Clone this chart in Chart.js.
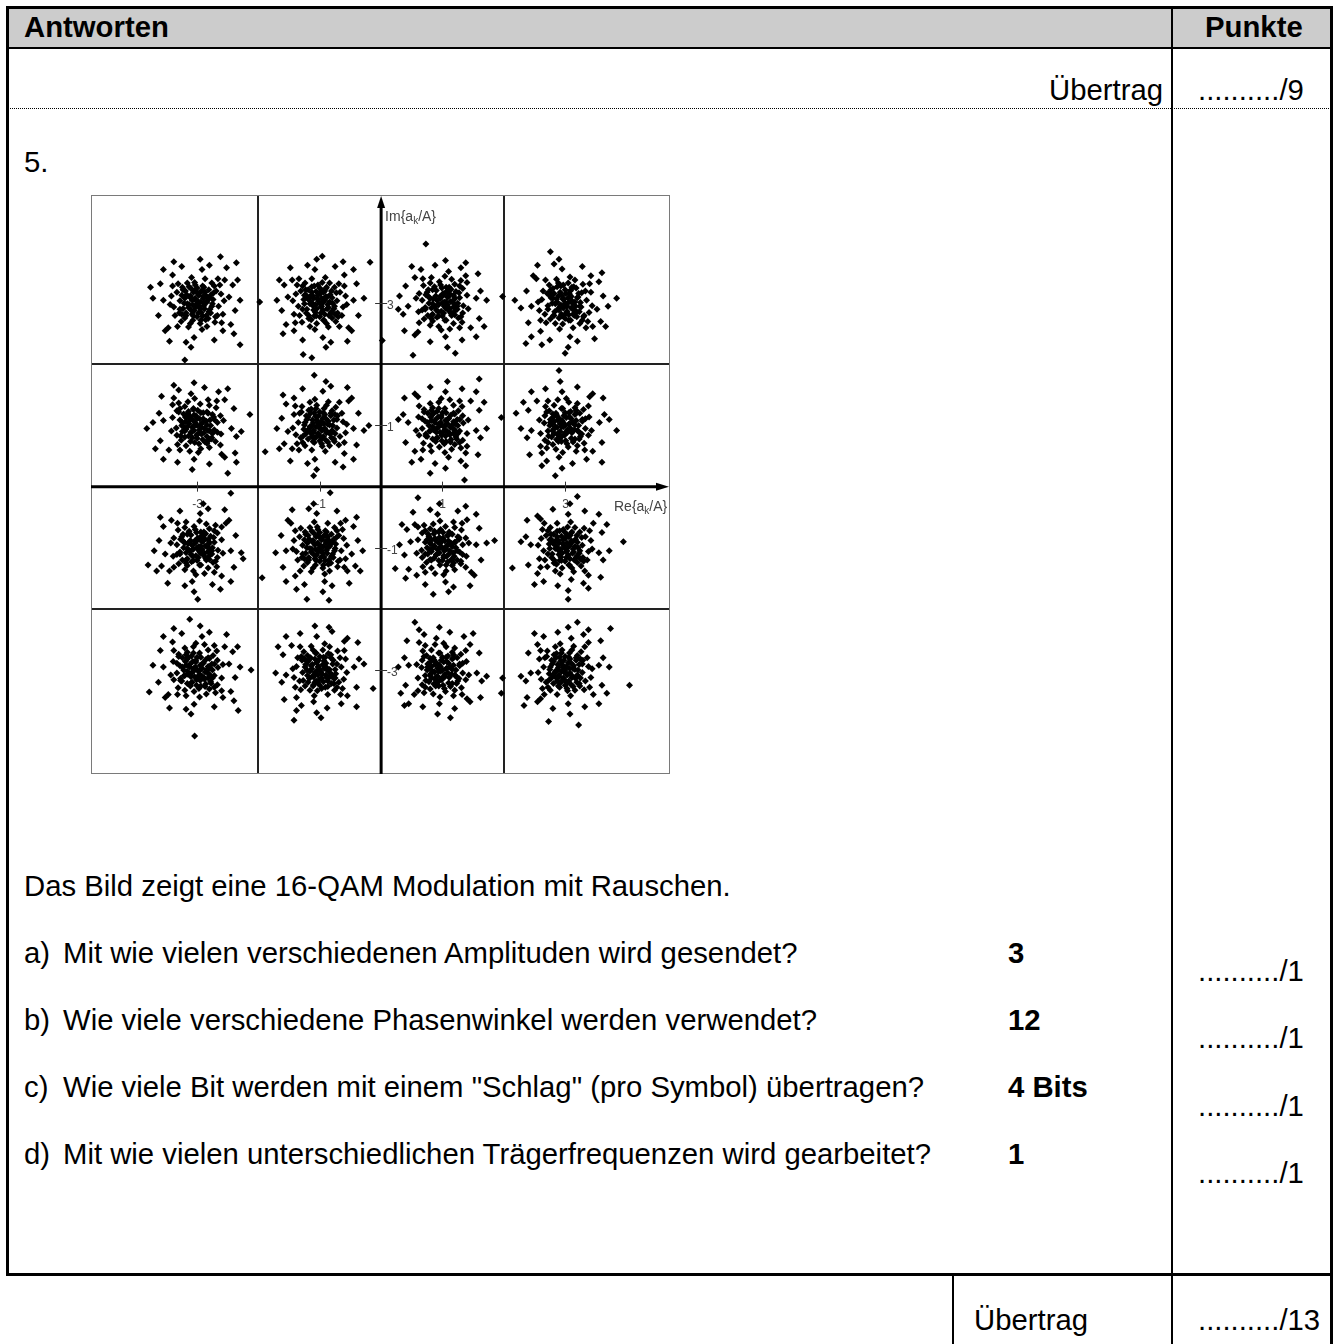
<!DOCTYPE html>
<html lang="de">
<head>
<meta charset="utf-8">
<title>16-QAM</title>
<script src="https://cdn.jsdelivr.net/npm/chart.js@4.4.1/dist/chart.umd.min.js"></script>
<style>
  html, body { margin: 0; padding: 0; background: #fff; }
  body { width: 1337px; height: 1344px; position: relative; overflow: hidden;
         font-family: "Liberation Sans", Arial, sans-serif; color: #000; }
  .t { position: absolute; font-size: 29.3px; line-height: 32px; white-space: nowrap; }
  .b { font-weight: bold; }
  .ln { position: absolute; background: #000; }
  #head { position: absolute; left: 8px; top: 8px; width: 1323px; height: 40px; background: #cccccc; }
  #dots { position: absolute; left: 8px; top: 108px; width: 1323px; border-top: 1px dotted #000; }
  #plot { position: absolute; left: 91px; top: 195px; width: 579px; height: 579px; }
</style>
</head>
<body>
<div id="head"></div>
<!-- table frame -->
<div class="ln" style="left:6px;top:6px;width:1327px;height:3px"></div>
<div class="ln" style="left:6px;top:6px;width:3px;height:1270px"></div>
<div class="ln" style="left:1330px;top:6px;width:3px;height:1338px"></div>
<div class="ln" style="left:6px;top:47px;width:1327px;height:2px"></div>
<div class="ln" style="left:1171px;top:6px;width:2px;height:1338px"></div>
<div class="ln" style="left:6px;top:1273px;width:1327px;height:3px"></div>
<div class="ln" style="left:952px;top:1275px;width:2px;height:69px"></div>
<div id="dots"></div>

<div class="t b" style="left:24px;top:11px">Antworten</div>
<div class="t b" style="left:1205px;top:11px">Punkte</div>
<div class="t" style="right:174px;top:74px">Übertrag</div>
<div class="t" style="left:1198px;top:74px">........../9</div>
<div class="t" style="left:24px;top:146px">5.</div>

<div id="plot"><canvas id="qam" width="579" height="579"></canvas></div>

<div class="t" style="left:24px;top:870px">Das Bild zeigt eine 16-QAM Modulation mit Rauschen.</div>

<div class="t" style="left:24px;top:937px">a)</div>
<div class="t" style="left:63px;top:937px">Mit wie vielen verschiedenen Amplituden wird gesendet?</div>
<div class="t b" style="left:1008px;top:937px">3</div>
<div class="t" style="left:1198px;top:955px">........../1</div>

<div class="t" style="left:24px;top:1004px">b)</div>
<div class="t" style="left:63px;top:1004px">Wie viele verschiedene Phasenwinkel werden verwendet?</div>
<div class="t b" style="left:1008px;top:1004px">12</div>
<div class="t" style="left:1198px;top:1022px">........../1</div>

<div class="t" style="left:24px;top:1071px">c)</div>
<div class="t" style="left:63px;top:1071px">Wie viele Bit werden mit einem "Schlag" (pro Symbol) übertragen?</div>
<div class="t b" style="left:1008px;top:1071px">4 Bits</div>
<div class="t" style="left:1198px;top:1090px">........../1</div>

<div class="t" style="left:24px;top:1138px">d)</div>
<div class="t" style="left:63px;top:1138px">Mit wie vielen unterschiedlichen Trägerfrequenzen wird gearbeitet?</div>
<div class="t b" style="left:1008px;top:1138px">1</div>
<div class="t" style="left:1198px;top:1157px">........../1</div>

<div class="t" style="left:974px;top:1304px">Übertrag</div>
<div class="t" style="left:1198px;top:1304px">........../13</div>

<script>
// axis ranges of the constellation plot (Re / Im of a_k/A)
const xMin = -4.73, xMax = 4.71;
const yMin = -4.70, yMax = 4.77;
const gridValues = [-2, 2];
const xTickLabels = [-3, -1, 1, 3];
const yTickLabels = [3, 1, -1, -3];

// received symbols, one cloud per constellation point [Re, Im]
const cloud_m3_p3 = [[-2.98,3.03],[-3.08,3.05],[-2.89,2.96],[-3.05,2.88],[-2.85,3.12],[-3.17,3.14],[-2.94,3.19],[-3.13,2.98],[-2.79,2.90],[-3.00,2.78],[-3.23,2.91],[-2.91,3.28],[-2.74,3.06],[-3.10,3.24],[-3.28,3.04],[-2.82,2.75],[-3.20,2.76],[-2.69,3.20],[-3.04,3.34],[-2.95,2.67],[-3.33,3.18],[-2.65,2.95],[-3.26,2.70],[-2.76,3.33],[-3.38,2.94],[-2.87,3.40],[-2.61,3.15],[-3.14,2.61],[-2.71,2.69],[-3.31,3.32],[-2.58,2.82],[-3.42,3.12],[-2.97,3.13],[-3.02,2.94],[-2.88,3.00],[-3.12,3.10],[-2.93,2.85],[-3.18,2.84],[-2.81,3.22],[-3.07,2.72],[-2.67,2.80],[-3.24,3.26],[-2.84,2.62],[-3.36,2.80],[-2.63,3.30],[-3.09,3.42],[-2.56,3.04],[-3.44,2.98],[-2.78,2.84],[-3.16,3.33],[-2.90,3.08],[-3.06,3.18],[-2.75,2.99],[-3.21,3.00],[-3.00,3.25],[-2.86,2.73],[-3.29,2.84],[-2.72,3.28],[-3.11,2.67],[-2.60,2.68],[-3.40,3.28],[-2.92,2.57],[-3.32,2.62],[-2.66,3.40],[-3.03,3.08],
  [-2.48,3.10],[-3.55,3.05],[-2.92,3.55],[-3.05,2.44],[-2.55,3.38],[-3.40,3.46],[-2.58,2.55],[-3.47,2.60],[-2.38,2.88],[-3.63,2.80],[-2.80,3.62],[-3.25,3.60],[-2.72,2.40],[-3.18,2.36],[-2.42,3.30],[-3.60,3.32],[-2.45,2.65],[-3.52,2.55],[-2.30,3.05],[-3.72,3.08],[-2.95,3.72],[-3.10,2.28],[-2.52,3.58],[-3.55,3.55],[-2.40,2.50],[-3.45,2.38],[-2.34,3.38],[-3.38,3.68],
  [-2.95,2.91],[-3.14,2.93],[-2.83,3.05],[-3.03,3.21],[-2.91,2.79],[-3.19,3.20],[-2.77,3.14],[-3.25,2.82],[-2.87,3.18],[-3.08,2.82],
  [-3.00,3.00],[-2.94,3.02],[-3.04,3.07],[-2.97,2.95],[-3.07,2.97],[-2.90,3.11],[-3.11,3.12],[-2.88,2.91],[-3.10,2.89],[-2.84,3.02],[-3.16,2.99],[-2.99,3.16],[-2.98,2.84],[-2.80,3.09],[-3.20,3.08],[-2.92,3.20],[-3.06,2.79],[-2.81,2.86],[-3.18,2.80],[-2.76,2.95],[-3.25,3.13],[-2.89,3.26],[-3.13,3.27],[-2.73,3.17],[-3.28,2.90],[-2.94,2.72],[-2.70,2.78],[-3.23,3.22],[-2.85,2.80],[-3.03,3.30],
  [-3.20,2.07],[-3.76,3.26],[-2.62,3.76],[-2.36,3.66],[-2.30,2.32]];
const cloud_m1_p3 = [[-1.02,3.03],[-0.92,3.05],[-1.11,2.96],[-0.95,2.88],[-1.15,3.12],[-0.83,3.14],[-1.06,3.19],[-0.87,2.98],[-1.21,2.90],[-1.00,2.78],[-0.77,2.91],[-1.09,3.28],[-1.26,3.06],[-0.90,3.24],[-0.72,3.04],[-1.18,2.75],[-0.80,2.76],[-1.31,3.20],[-0.96,3.34],[-1.05,2.67],[-0.67,3.18],[-1.35,2.95],[-0.74,2.70],[-1.24,3.33],[-0.62,2.94],[-1.13,3.40],[-1.39,3.15],[-0.86,2.61],[-1.29,2.69],[-0.69,3.32],[-1.42,2.82],[-0.58,3.12],[-1.03,3.13],[-0.98,2.94],[-1.12,3.00],[-0.88,3.10],[-1.07,2.85],[-0.82,2.84],[-1.19,3.22],[-0.93,2.72],[-1.33,2.80],[-0.76,3.26],[-1.16,2.62],[-0.64,2.80],[-1.37,3.30],[-0.91,3.42],[-1.44,3.04],[-0.56,2.98],[-1.22,2.84],[-0.84,3.33],[-1.10,3.08],[-0.94,3.18],[-1.25,2.99],[-0.79,3.00],[-1.00,3.25],[-1.14,2.73],[-0.71,2.84],[-1.28,3.28],[-0.89,2.67],[-1.40,2.68],[-0.60,3.28],[-1.08,2.57],[-0.68,2.62],[-1.34,3.40],[-0.97,3.08],
  [-1.52,3.10],[-0.45,3.05],[-1.08,3.55],[-0.95,2.44],[-1.45,3.38],[-0.60,3.46],[-1.42,2.55],[-0.53,2.60],[-1.62,2.88],[-0.37,2.80],[-1.20,3.62],[-0.75,3.60],[-1.28,2.40],[-0.82,2.36],[-1.58,3.30],[-0.40,3.32],[-1.55,2.65],[-0.48,2.55],[-1.70,3.05],[-0.28,3.08],[-1.05,3.72],[-0.90,2.28],[-1.48,3.58],[-0.45,3.55],[-1.60,2.50],[-0.55,2.38],[-1.66,3.38],[-0.62,3.68],
  [-1.05,2.91],[-0.86,2.93],[-1.17,3.05],[-0.97,3.21],[-1.09,2.79],[-0.81,3.20],[-1.23,3.14],[-0.75,2.82],[-1.13,3.18],[-0.92,2.82],
  [-1.00,3.00],[-0.94,3.02],[-1.04,3.07],[-0.97,2.95],[-1.07,2.97],[-0.90,3.11],[-1.11,3.12],[-0.88,2.91],[-1.10,2.89],[-0.84,3.02],[-1.16,2.99],[-0.99,3.16],[-0.98,2.84],[-0.80,3.09],[-1.20,3.08],[-0.92,3.20],[-1.06,2.79],[-0.81,2.86],[-1.18,2.80],[-0.76,2.95],[-1.25,3.13],[-0.89,3.26],[-1.13,3.27],[-0.73,3.17],[-1.28,2.90],[-0.94,2.72],[-0.70,2.78],[-1.23,3.22],[-0.85,2.80],[-1.03,3.30],
  [-1.98,3.02],[-0.18,3.67],[-1.27,2.16],[-1.13,2.11],[-0.96,3.77]];
const cloud_p1_p3 = [[1.03,3.02],[1.05,2.92],[0.96,3.11],[0.88,2.95],[1.12,3.15],[1.14,2.83],[1.19,3.06],[0.98,2.87],[0.90,3.21],[0.78,3.00],[0.91,2.77],[1.28,3.09],[1.06,3.26],[1.24,2.90],[1.04,2.72],[0.75,3.18],[0.76,2.80],[1.20,3.31],[1.34,2.96],[0.67,3.05],[1.18,2.67],[0.95,3.35],[0.70,2.74],[1.33,3.24],[0.94,2.62],[1.40,3.13],[1.15,3.39],[0.61,2.86],[0.69,3.29],[1.32,2.69],[0.82,3.42],[1.12,2.58],[1.13,3.03],[0.94,2.98],[1.00,3.12],[1.10,2.88],[0.85,3.07],[0.84,2.82],[1.22,3.19],[0.72,2.93],[0.80,3.33],[1.26,2.76],[0.62,3.16],[0.80,2.64],[1.30,3.37],[1.42,2.91],[1.04,3.44],[0.98,2.56],[0.84,3.22],[1.33,2.84],[1.08,3.10],[1.18,2.94],[0.99,3.25],[1.00,2.79],[1.25,3.00],[0.73,3.14],[0.84,2.71],[1.28,3.28],[0.67,2.89],[0.68,3.40],[1.28,2.60],[0.57,3.08],[0.62,2.68],[1.40,3.34],[1.08,2.97],
  [1.10,3.52],[1.05,2.45],[1.55,3.08],[0.44,2.95],[1.38,3.45],[1.46,2.60],[0.55,3.42],[0.60,2.53],[0.88,3.62],[0.80,2.37],[1.62,3.20],[1.60,2.75],[0.40,3.28],[0.36,2.82],[1.30,3.58],[1.32,2.40],[0.65,3.55],[0.55,2.48],[1.05,3.70],[1.08,2.28],[1.72,3.05],[0.28,2.90],[1.58,3.48],[1.55,2.45],[0.50,3.60],[0.38,2.55],[1.38,3.66],[1.68,2.62],
  [0.91,3.05],[0.93,2.86],[1.05,3.17],[1.21,2.97],[0.79,3.09],[1.20,2.81],[1.14,3.23],[0.82,2.75],[1.18,3.13],[0.82,2.92],
  [1.00,3.00],[1.06,3.02],[0.96,3.07],[1.03,2.95],[0.93,2.97],[1.10,3.11],[0.89,3.12],[1.12,2.91],[0.90,2.89],[1.16,3.02],[0.84,2.99],[1.01,3.16],[1.02,2.84],[1.20,3.09],[0.80,3.08],[1.08,3.20],[0.94,2.79],[1.19,2.86],[0.82,2.80],[1.24,2.95],[0.75,3.13],[1.11,3.26],[0.87,3.27],[1.27,3.17],[0.72,2.90],[1.06,2.72],[1.30,2.78],[0.77,3.22],[1.15,2.80],[0.97,3.30],
  [0.73,3.97],[0.30,3.12],[0.52,2.15],[1.21,2.18],[0.02,2.39],[1.98,3.11]];
const cloud_p3_p3 = [[3.02,2.97],[2.92,2.95],[3.11,3.04],[2.95,3.12],[3.15,2.88],[2.83,2.86],[3.06,2.81],[2.87,3.02],[3.21,3.10],[3.00,3.22],[2.77,3.09],[3.09,2.72],[3.26,2.94],[2.90,2.76],[2.72,2.96],[3.18,3.25],[2.80,3.24],[3.31,2.80],[2.96,2.66],[3.05,3.33],[2.67,2.82],[3.35,3.05],[2.74,3.30],[3.24,2.67],[2.62,3.06],[3.13,2.60],[3.39,2.85],[2.86,3.39],[3.29,3.31],[2.69,2.68],[3.42,3.18],[2.58,2.88],[3.03,2.87],[2.98,3.06],[3.12,3.00],[2.88,2.90],[3.07,3.15],[2.82,3.16],[3.19,2.78],[2.93,3.28],[3.33,3.20],[2.76,2.74],[3.16,3.38],[2.64,3.20],[3.37,2.70],[2.91,2.58],[3.44,2.96],[2.56,3.02],[3.22,3.16],[2.84,2.67],[3.10,2.92],[2.94,2.82],[3.25,3.01],[2.79,3.00],[3.00,2.75],[3.14,3.27],[2.71,3.16],[3.28,2.72],[2.89,3.33],[3.40,3.32],[2.60,2.72],[3.08,3.43],[2.68,3.38],[3.34,2.60],[2.97,2.92],
  [3.52,2.90],[2.45,2.95],[3.08,2.45],[2.95,3.56],[3.45,2.62],[2.60,2.54],[3.42,3.45],[2.53,3.40],[3.62,3.12],[2.37,3.20],[3.20,2.38],[2.75,2.40],[3.28,3.60],[2.82,3.64],[3.58,2.70],[2.40,2.68],[3.55,3.35],[2.48,3.45],[3.70,2.95],[2.28,2.92],[3.05,2.28],[2.90,3.72],[3.48,2.42],[2.45,2.45],[3.60,3.50],[2.55,3.62],[3.66,2.62],[2.62,2.32],
  [3.05,3.09],[2.86,3.07],[3.17,2.95],[2.97,2.79],[3.09,3.21],[2.81,2.80],[3.23,2.86],[2.75,3.18],[3.13,2.82],[2.92,3.18],
  [3.00,3.00],[3.06,3.02],[2.96,3.07],[3.03,2.95],[2.93,2.97],[3.10,3.11],[2.89,3.12],[3.12,2.91],[2.90,2.89],[3.16,3.02],[2.84,2.99],[3.01,3.16],[3.02,2.84],[3.20,3.09],[2.80,3.08],[3.08,3.20],[2.94,2.79],[3.19,2.86],[2.82,2.80],[3.24,2.95],[2.75,3.13],[3.11,3.26],[2.87,3.27],[3.27,3.17],[2.72,2.90],[3.06,2.72],[3.30,2.78],[2.77,3.22],[3.15,2.80],[2.97,3.30],
  [2.76,3.84],[3.84,3.08],[2.36,2.34],[3.00,2.18],[2.18,3.05]];
const cloud_m3_p1 = [[-3.03,1.02],[-3.05,0.92],[-2.96,1.11],[-2.88,0.95],[-3.12,1.15],[-3.14,0.83],[-3.19,1.06],[-2.98,0.87],[-2.90,1.21],[-2.78,1.00],[-2.91,0.77],[-3.28,1.09],[-3.06,1.26],[-3.24,0.90],[-3.04,0.72],[-2.75,1.18],[-2.76,0.80],[-3.20,1.31],[-3.34,0.96],[-2.67,1.05],[-3.18,0.67],[-2.95,1.35],[-2.70,0.74],[-3.33,1.24],[-2.94,0.62],[-3.40,1.13],[-3.15,1.39],[-2.61,0.86],[-2.69,1.29],[-3.32,0.69],[-2.82,1.42],[-3.12,0.58],[-3.13,1.03],[-2.94,0.98],[-3.00,1.12],[-3.10,0.88],[-2.85,1.07],[-2.84,0.82],[-3.22,1.19],[-2.72,0.93],[-2.80,1.33],[-3.26,0.76],[-2.62,1.16],[-2.80,0.64],[-3.30,1.37],[-3.42,0.91],[-3.04,1.44],[-2.98,0.56],[-2.84,1.22],[-3.33,0.84],[-3.08,1.10],[-3.18,0.94],[-2.99,1.25],[-3.00,0.79],[-3.25,1.00],[-2.73,1.14],[-2.84,0.71],[-3.28,1.28],[-2.67,0.89],[-2.68,1.40],[-3.28,0.60],[-2.57,1.08],[-2.62,0.68],[-3.40,1.34],[-3.08,0.97],
  [-3.10,1.52],[-3.05,0.45],[-3.55,1.08],[-2.44,0.95],[-3.38,1.45],[-3.46,0.60],[-2.55,1.42],[-2.60,0.53],[-2.88,1.62],[-2.80,0.37],[-3.62,1.20],[-3.60,0.75],[-2.40,1.28],[-2.36,0.82],[-3.30,1.58],[-3.32,0.40],[-2.65,1.55],[-2.55,0.48],[-3.05,1.70],[-3.08,0.28],[-3.72,1.05],[-2.28,0.90],[-3.58,1.48],[-3.55,0.45],[-2.50,1.60],[-2.38,0.55],[-3.38,1.66],[-3.68,0.62],
  [-2.91,1.05],[-2.93,0.86],[-3.05,1.17],[-3.21,0.97],[-2.79,1.09],[-3.20,0.81],[-3.14,1.23],[-2.82,0.75],[-3.18,1.13],[-2.82,0.92],
  [-3.00,1.00],[-3.06,0.98],[-2.96,0.93],[-3.03,1.05],[-2.93,1.03],[-3.10,0.89],[-2.89,0.88],[-3.12,1.09],[-2.90,1.11],[-3.16,0.98],[-2.84,1.01],[-3.01,0.84],[-3.02,1.16],[-3.20,0.91],[-2.80,0.92],[-3.08,0.80],[-2.94,1.21],[-3.19,1.14],[-2.82,1.20],[-3.24,1.05],[-2.75,0.87],[-3.11,0.74],[-2.87,0.73],[-3.27,0.83],[-2.72,1.10],[-3.06,1.28],[-3.30,1.22],[-2.77,0.78],[-3.15,1.20],[-2.97,0.70],
  [-3.82,0.95],[-2.14,1.18],[-2.50,0.22],[-2.36,0.40]];
const cloud_m1_p1 = [[-1.02,0.97],[-0.92,0.95],[-1.11,1.04],[-0.95,1.12],[-1.15,0.88],[-0.83,0.86],[-1.06,0.81],[-0.87,1.02],[-1.21,1.10],[-1.00,1.22],[-0.77,1.09],[-1.09,0.72],[-1.26,0.94],[-0.90,0.76],[-0.72,0.96],[-1.18,1.25],[-0.80,1.24],[-1.31,0.80],[-0.96,0.66],[-1.05,1.33],[-0.67,0.82],[-1.35,1.05],[-0.74,1.30],[-1.24,0.67],[-0.62,1.06],[-1.13,0.60],[-1.39,0.85],[-0.86,1.39],[-1.29,1.31],[-0.69,0.68],[-1.42,1.18],[-0.58,0.88],[-1.03,0.87],[-0.98,1.06],[-1.12,1.00],[-0.88,0.90],[-1.07,1.15],[-0.82,1.16],[-1.19,0.78],[-0.93,1.28],[-1.33,1.20],[-0.76,0.74],[-1.16,1.38],[-0.64,1.20],[-1.37,0.70],[-0.91,0.58],[-1.44,0.96],[-0.56,1.02],[-1.22,1.16],[-0.84,0.67],[-1.10,0.92],[-0.94,0.82],[-1.25,1.01],[-0.79,1.00],[-1.00,0.75],[-1.14,1.27],[-0.71,1.16],[-1.28,0.72],[-0.89,1.33],[-1.40,1.32],[-0.60,0.72],[-1.08,1.43],[-0.68,1.38],[-1.34,0.60],[-0.97,0.92],
  [-1.52,0.90],[-0.45,0.95],[-1.08,0.45],[-0.95,1.56],[-1.45,0.62],[-0.60,0.54],[-1.42,1.45],[-0.53,1.40],[-1.62,1.12],[-0.37,1.20],[-1.20,0.38],[-0.75,0.40],[-1.28,1.60],[-0.82,1.64],[-1.58,0.70],[-0.40,0.68],[-1.55,1.35],[-0.48,1.45],[-1.70,0.95],[-0.28,0.92],[-1.05,0.28],[-0.90,1.72],[-1.48,0.42],[-0.45,0.45],[-1.60,1.50],[-0.55,1.62],[-1.66,0.62],[-0.62,0.32],
  [-1.05,1.09],[-0.86,1.07],[-1.17,0.95],[-0.97,0.79],[-1.09,1.21],[-0.81,0.80],[-1.23,0.86],[-0.75,1.18],[-1.13,0.82],[-0.92,1.18],
  [-1.00,1.00],[-1.06,0.98],[-0.96,0.93],[-1.03,1.05],[-0.93,1.03],[-1.10,0.89],[-0.89,0.88],[-1.12,1.09],[-0.90,1.11],[-1.16,0.98],[-0.84,1.01],[-1.01,0.84],[-1.02,1.16],[-1.20,0.91],[-0.80,0.92],[-1.08,0.80],[-0.94,1.21],[-1.19,1.14],[-0.82,1.20],[-1.24,1.05],[-0.75,0.87],[-1.11,0.74],[-0.87,0.73],[-1.27,0.83],[-0.72,1.10],[-1.06,1.28],[-1.30,1.22],[-0.77,0.78],[-1.15,1.20],[-0.97,0.70],
  [-1.89,0.57],[-1.09,1.82],[-1.10,0.18],[-0.20,1.00]];
const cloud_p1_p1 = [[1.03,0.98],[1.05,1.08],[0.96,0.89],[0.88,1.05],[1.12,0.85],[1.14,1.17],[1.19,0.94],[0.98,1.13],[0.90,0.79],[0.78,1.00],[0.91,1.23],[1.28,0.91],[1.06,0.74],[1.24,1.10],[1.04,1.28],[0.75,0.82],[0.76,1.20],[1.20,0.69],[1.34,1.04],[0.67,0.95],[1.18,1.33],[0.95,0.65],[0.70,1.26],[1.33,0.76],[0.94,1.38],[1.40,0.87],[1.15,0.61],[0.61,1.14],[0.69,0.71],[1.32,1.31],[0.82,0.58],[1.12,1.42],[1.13,0.97],[0.94,1.02],[1.00,0.88],[1.10,1.12],[0.85,0.93],[0.84,1.18],[1.22,0.81],[0.72,1.07],[0.80,0.67],[1.26,1.24],[0.62,0.84],[0.80,1.36],[1.30,0.63],[1.42,1.09],[1.04,0.56],[0.98,1.44],[0.84,0.78],[1.33,1.16],[1.08,0.90],[1.18,1.06],[0.99,0.75],[1.00,1.21],[1.25,1.00],[0.73,0.86],[0.84,1.29],[1.28,0.72],[0.67,1.11],[0.68,0.60],[1.28,1.40],[0.57,0.92],[0.62,1.32],[1.40,0.66],[1.08,1.03],
  [1.10,0.48],[1.05,1.55],[1.55,0.92],[0.44,1.05],[1.38,0.55],[1.46,1.40],[0.55,0.58],[0.60,1.47],[0.88,0.38],[0.80,1.63],[1.62,0.80],[1.60,1.25],[0.40,0.72],[0.36,1.18],[1.30,0.42],[1.32,1.60],[0.65,0.45],[0.55,1.52],[1.05,0.30],[1.08,1.72],[1.72,0.95],[0.28,1.10],[1.58,0.52],[1.55,1.55],[0.50,0.40],[0.38,1.45],[1.38,0.34],[1.68,1.38],
  [0.91,0.95],[0.93,1.14],[1.05,0.83],[1.21,1.03],[0.79,0.91],[1.20,1.19],[1.14,0.77],[0.82,1.25],[1.18,0.87],[0.82,1.08],
  [1.00,1.00],[0.94,0.98],[1.04,0.93],[0.97,1.05],[1.07,1.03],[0.90,0.89],[1.11,0.88],[0.88,1.09],[1.10,1.11],[0.84,0.98],[1.16,1.01],[0.99,0.84],[0.98,1.16],[0.80,0.91],[1.20,0.92],[0.92,0.80],[1.06,1.21],[0.81,1.14],[1.18,1.20],[0.76,1.05],[1.25,0.87],[0.89,0.74],[1.13,0.73],[0.73,0.83],[1.28,1.10],[0.94,1.28],[0.70,1.22],[1.23,0.78],[0.85,1.20],[1.03,0.70],
  [1.96,1.13],[1.60,1.76],[1.36,0.11],[0.80,0.22]];
const cloud_p3_p1 = [[2.97,0.98],[2.95,1.08],[3.04,0.89],[3.12,1.05],[2.88,0.85],[2.86,1.17],[2.81,0.94],[3.02,1.13],[3.10,0.79],[3.22,1.00],[3.09,1.23],[2.72,0.91],[2.94,0.74],[2.76,1.10],[2.96,1.28],[3.25,0.82],[3.24,1.20],[2.80,0.69],[2.66,1.04],[3.33,0.95],[2.82,1.33],[3.05,0.65],[3.30,1.26],[2.67,0.76],[3.06,1.38],[2.60,0.87],[2.85,0.61],[3.39,1.14],[3.31,0.71],[2.68,1.31],[3.18,0.58],[2.88,1.42],[2.87,0.97],[3.06,1.02],[3.00,0.88],[2.90,1.12],[3.15,0.93],[3.16,1.18],[2.78,0.81],[3.28,1.07],[3.20,0.67],[2.74,1.24],[3.38,0.84],[3.20,1.36],[2.70,0.63],[2.58,1.09],[2.96,0.56],[3.02,1.44],[3.16,0.78],[2.67,1.16],[2.92,0.90],[2.82,1.06],[3.01,0.75],[3.00,1.21],[2.75,1.00],[3.27,0.86],[3.16,1.29],[2.72,0.72],[3.33,1.11],[3.32,0.60],[2.72,1.40],[3.43,0.92],[3.38,1.32],[2.60,0.66],[2.92,1.03],
  [2.90,0.48],[2.95,1.55],[2.45,0.92],[3.56,1.05],[2.62,0.55],[2.54,1.40],[3.45,0.58],[3.40,1.47],[3.12,0.38],[3.20,1.63],[2.38,0.80],[2.40,1.25],[3.60,0.72],[3.64,1.18],[2.70,0.42],[2.68,1.60],[3.35,0.45],[3.45,1.52],[2.95,0.30],[2.92,1.72],[2.28,0.95],[3.72,1.10],[2.42,0.52],[2.45,1.55],[3.60,0.40],[3.62,1.45],[2.62,0.34],[2.32,1.38],
  [3.09,0.95],[3.07,1.14],[2.95,0.83],[2.79,1.03],[3.21,0.91],[2.80,1.19],[2.86,0.77],[3.18,1.25],[2.82,0.87],[3.18,1.08],
  [3.00,1.00],[2.94,0.98],[3.04,0.93],[2.97,1.05],[3.07,1.03],[2.90,0.89],[3.11,0.88],[2.88,1.09],[3.10,1.11],[2.84,0.98],[3.16,1.01],[2.99,0.84],[2.98,1.16],[2.80,0.91],[3.20,0.92],[2.92,0.80],[3.06,1.21],[2.81,1.14],[3.18,1.20],[2.76,1.05],[3.25,0.87],[2.89,0.74],[3.13,0.73],[2.73,0.83],[3.28,1.10],[2.94,1.28],[2.70,1.22],[3.23,0.78],[2.85,1.20],[3.03,0.70],
  [2.90,1.90],[3.84,0.92],[2.20,1.20],[2.84,0.18]];
const cloud_m3_m1 = [[-2.97,-0.98],[-2.95,-1.08],[-3.04,-0.89],[-3.12,-1.05],[-2.88,-0.85],[-2.86,-1.17],[-2.81,-0.94],[-3.02,-1.13],[-3.10,-0.79],[-3.22,-1.00],[-3.09,-1.23],[-2.72,-0.91],[-2.94,-0.74],[-2.76,-1.10],[-2.96,-1.28],[-3.25,-0.82],[-3.24,-1.20],[-2.80,-0.69],[-2.66,-1.04],[-3.33,-0.95],[-2.82,-1.33],[-3.05,-0.65],[-3.30,-1.26],[-2.67,-0.76],[-3.06,-1.38],[-2.60,-0.87],[-2.85,-0.61],[-3.39,-1.14],[-3.31,-0.71],[-2.68,-1.31],[-3.18,-0.58],[-2.88,-1.42],[-2.87,-0.97],[-3.06,-1.02],[-3.00,-0.88],[-2.90,-1.12],[-3.15,-0.93],[-3.16,-1.18],[-2.78,-0.81],[-3.28,-1.07],[-3.20,-0.67],[-2.74,-1.24],[-3.38,-0.84],[-3.20,-1.36],[-2.70,-0.63],[-2.58,-1.09],[-2.96,-0.56],[-3.02,-1.44],[-3.16,-0.78],[-2.67,-1.16],[-2.92,-0.90],[-2.82,-1.06],[-3.01,-0.75],[-3.00,-1.21],[-2.75,-1.00],[-3.27,-0.86],[-3.16,-1.29],[-2.72,-0.72],[-3.33,-1.11],[-3.32,-0.60],[-2.72,-1.40],[-3.43,-0.92],[-3.38,-1.32],[-2.60,-0.66],[-2.92,-1.03],
  [-3.52,-1.10],[-2.45,-1.05],[-3.08,-1.55],[-2.95,-0.44],[-3.45,-1.38],[-2.60,-1.46],[-3.42,-0.55],[-2.53,-0.60],[-3.62,-0.88],[-2.37,-0.80],[-3.20,-1.62],[-2.75,-1.60],[-3.28,-0.40],[-2.82,-0.36],[-3.58,-1.30],[-2.40,-1.32],[-3.55,-0.65],[-2.48,-0.55],[-3.70,-1.05],[-2.28,-1.08],[-3.05,-1.72],[-2.90,-0.28],[-3.48,-1.58],[-2.45,-1.55],[-3.60,-0.50],[-2.55,-0.38],[-3.66,-1.38],[-2.62,-1.68],
  [-3.09,-0.95],[-3.07,-1.14],[-2.95,-0.83],[-2.79,-1.03],[-3.21,-0.91],[-2.80,-1.19],[-2.86,-0.77],[-3.18,-1.25],[-2.82,-0.87],[-3.18,-1.08],
  [-3.00,-1.00],[-2.94,-0.98],[-3.04,-0.93],[-2.97,-1.05],[-3.07,-1.03],[-2.90,-0.89],[-3.11,-0.88],[-2.88,-1.09],[-3.10,-1.11],[-2.84,-0.98],[-3.16,-1.01],[-2.99,-0.84],[-2.98,-1.16],[-2.80,-0.91],[-3.20,-0.92],[-2.92,-0.80],[-3.06,-1.21],[-2.81,-1.14],[-3.18,-1.20],[-2.76,-1.05],[-3.25,-0.87],[-2.89,-0.74],[-3.13,-0.73],[-2.73,-0.83],[-3.28,-1.10],[-2.94,-1.28],[-2.70,-1.22],[-3.23,-0.78],[-2.85,-1.20],[-3.03,-0.70],
  [-2.45,-0.11],[-3.80,-1.28],[-2.99,-1.84],[-2.25,-1.18]];
const cloud_m1_m1 = [[-0.98,-0.97],[-1.08,-0.95],[-0.89,-1.04],[-1.05,-1.12],[-0.85,-0.88],[-1.17,-0.86],[-0.94,-0.81],[-1.13,-1.02],[-0.79,-1.10],[-1.00,-1.22],[-1.23,-1.09],[-0.91,-0.72],[-0.74,-0.94],[-1.10,-0.76],[-1.28,-0.96],[-0.82,-1.25],[-1.20,-1.24],[-0.69,-0.80],[-1.04,-0.66],[-0.95,-1.33],[-1.33,-0.82],[-0.65,-1.05],[-1.26,-1.30],[-0.76,-0.67],[-1.38,-1.06],[-0.87,-0.60],[-0.61,-0.85],[-1.14,-1.39],[-0.71,-1.31],[-1.31,-0.68],[-0.58,-1.18],[-1.42,-0.88],[-0.97,-0.87],[-1.02,-1.06],[-0.88,-1.00],[-1.12,-0.90],[-0.93,-1.15],[-1.18,-1.16],[-0.81,-0.78],[-1.07,-1.28],[-0.67,-1.20],[-1.24,-0.74],[-0.84,-1.38],[-1.36,-1.20],[-0.63,-0.70],[-1.09,-0.58],[-0.56,-0.96],[-1.44,-1.02],[-0.78,-1.16],[-1.16,-0.67],[-0.90,-0.92],[-1.06,-0.82],[-0.75,-1.01],[-1.21,-1.00],[-1.00,-0.75],[-0.86,-1.27],[-1.29,-1.16],[-0.72,-0.72],[-1.11,-1.33],[-0.60,-1.32],[-1.40,-0.72],[-0.92,-1.43],[-1.32,-1.38],[-0.66,-0.60],[-1.03,-0.92],
  [-0.48,-1.10],[-1.55,-1.05],[-0.92,-1.55],[-1.05,-0.44],[-0.55,-1.38],[-1.40,-1.46],[-0.58,-0.55],[-1.47,-0.60],[-0.38,-0.88],[-1.63,-0.80],[-0.80,-1.62],[-1.25,-1.60],[-0.72,-0.40],[-1.18,-0.36],[-0.42,-1.30],[-1.60,-1.32],[-0.45,-0.65],[-1.52,-0.55],[-0.30,-1.05],[-1.72,-1.08],[-0.95,-1.72],[-1.10,-0.28],[-0.52,-1.58],[-1.55,-1.55],[-0.40,-0.50],[-1.45,-0.38],[-0.34,-1.38],[-1.38,-1.68],
  [-0.95,-1.09],[-1.14,-1.07],[-0.83,-0.95],[-1.03,-0.79],[-0.91,-1.21],[-1.19,-0.80],[-0.77,-0.86],[-1.25,-1.18],[-0.87,-0.82],[-1.08,-1.18],
  [-1.00,-1.00],[-0.94,-0.98],[-1.04,-0.93],[-0.97,-1.05],[-1.07,-1.03],[-0.90,-0.89],[-1.11,-0.88],[-0.88,-1.09],[-1.10,-1.11],[-0.84,-0.98],[-1.16,-1.01],[-0.99,-0.84],[-0.98,-1.16],[-0.80,-0.91],[-1.20,-0.92],[-0.92,-0.80],[-1.06,-1.21],[-0.81,-1.14],[-1.18,-1.20],[-0.76,-1.05],[-1.25,-0.87],[-0.89,-0.74],[-1.13,-0.73],[-0.73,-0.83],[-1.28,-1.10],[-0.94,-1.28],[-0.70,-1.22],[-1.23,-0.78],[-0.85,-1.20],[-1.03,-0.70],
  [-1.94,-1.49],[-1.21,-1.84],[-0.85,-1.86],[-0.83,-0.10]];
const cloud_p1_m1 = [[0.97,-0.98],[0.95,-1.08],[1.04,-0.89],[1.12,-1.05],[0.88,-0.85],[0.86,-1.17],[0.81,-0.94],[1.02,-1.13],[1.10,-0.79],[1.22,-1.00],[1.09,-1.23],[0.72,-0.91],[0.94,-0.74],[0.76,-1.10],[0.96,-1.28],[1.25,-0.82],[1.24,-1.20],[0.80,-0.69],[0.66,-1.04],[1.33,-0.95],[0.82,-1.33],[1.05,-0.65],[1.30,-1.26],[0.67,-0.76],[1.06,-1.38],[0.60,-0.87],[0.85,-0.61],[1.39,-1.14],[1.31,-0.71],[0.68,-1.31],[1.18,-0.58],[0.88,-1.42],[0.87,-0.97],[1.06,-1.02],[1.00,-0.88],[0.90,-1.12],[1.15,-0.93],[1.16,-1.18],[0.78,-0.81],[1.28,-1.07],[1.20,-0.67],[0.74,-1.24],[1.38,-0.84],[1.20,-1.36],[0.70,-0.63],[0.58,-1.09],[0.96,-0.56],[1.02,-1.44],[1.16,-0.78],[0.67,-1.16],[0.92,-0.90],[0.82,-1.06],[1.01,-0.75],[1.00,-1.21],[0.75,-1.00],[1.27,-0.86],[1.16,-1.29],[0.72,-0.72],[1.33,-1.11],[1.32,-0.60],[0.72,-1.40],[1.43,-0.92],[1.38,-1.32],[0.60,-0.66],[0.92,-1.03],
  [0.48,-0.90],[1.55,-0.95],[0.92,-0.45],[1.05,-1.56],[0.55,-0.62],[1.40,-0.54],[0.58,-1.45],[1.47,-1.40],[0.38,-1.12],[1.63,-1.20],[0.80,-0.38],[1.25,-0.40],[0.72,-1.60],[1.18,-1.64],[0.42,-0.70],[1.60,-0.68],[0.45,-1.35],[1.52,-1.45],[0.30,-0.95],[1.72,-0.92],[0.95,-0.28],[1.10,-1.72],[0.52,-0.42],[1.55,-0.45],[0.40,-1.50],[1.45,-1.62],[0.34,-0.62],[1.38,-0.32],
  [1.09,-0.95],[1.07,-1.14],[0.95,-0.83],[0.79,-1.03],[1.21,-0.91],[0.80,-1.19],[0.86,-0.77],[1.18,-1.25],[0.82,-0.87],[1.18,-1.08],
  [1.00,-1.00],[1.06,-0.98],[0.96,-0.93],[1.03,-1.05],[0.93,-1.03],[1.10,-0.89],[0.89,-0.88],[1.12,-1.09],[0.90,-1.11],[1.16,-0.98],[0.84,-1.01],[1.01,-0.84],[1.02,-1.16],[1.20,-0.91],[0.80,-0.92],[1.08,-0.80],[0.94,-1.21],[1.19,-1.14],[0.82,-1.20],[1.24,-1.05],[0.75,-0.87],[1.11,-0.74],[0.87,-0.73],[1.27,-0.83],[0.72,-1.10],[1.06,-1.28],[1.30,-1.22],[0.77,-0.78],[1.15,-1.20],[0.97,-0.70],
  [0.23,-1.34],[1.85,-0.88],[0.85,-1.76],[0.60,-0.18]];
const cloud_p3_m1 = [[2.98,-0.97],[3.08,-0.95],[2.89,-1.04],[3.05,-1.12],[2.85,-0.88],[3.17,-0.86],[2.94,-0.81],[3.13,-1.02],[2.79,-1.10],[3.00,-1.22],[3.23,-1.09],[2.91,-0.72],[2.74,-0.94],[3.10,-0.76],[3.28,-0.96],[2.82,-1.25],[3.20,-1.24],[2.69,-0.80],[3.04,-0.66],[2.95,-1.33],[3.33,-0.82],[2.65,-1.05],[3.26,-1.30],[2.76,-0.67],[3.38,-1.06],[2.87,-0.60],[2.61,-0.85],[3.14,-1.39],[2.71,-1.31],[3.31,-0.68],[2.58,-1.18],[3.42,-0.88],[2.97,-0.87],[3.02,-1.06],[2.88,-1.00],[3.12,-0.90],[2.93,-1.15],[3.18,-1.16],[2.81,-0.78],[3.07,-1.28],[2.67,-1.20],[3.24,-0.74],[2.84,-1.38],[3.36,-1.20],[2.63,-0.70],[3.09,-0.58],[2.56,-0.96],[3.44,-1.02],[2.78,-1.16],[3.16,-0.67],[2.90,-0.92],[3.06,-0.82],[2.75,-1.01],[3.21,-1.00],[3.00,-0.75],[2.86,-1.27],[3.29,-1.16],[2.72,-0.72],[3.11,-1.33],[2.60,-1.32],[3.40,-0.72],[2.92,-1.43],[3.32,-1.38],[2.66,-0.60],[3.03,-0.92],
  [3.10,-1.52],[3.05,-0.45],[3.55,-1.08],[2.44,-0.95],[3.38,-1.45],[3.46,-0.60],[2.55,-1.42],[2.60,-0.53],[2.88,-1.62],[2.80,-0.37],[3.62,-1.20],[3.60,-0.75],[2.40,-1.28],[2.36,-0.82],[3.30,-1.58],[3.32,-0.40],[2.65,-1.55],[2.55,-0.48],[3.05,-1.70],[3.08,-0.28],[3.72,-1.05],[2.28,-0.90],[3.58,-1.48],[3.55,-0.45],[2.50,-1.60],[2.38,-0.55],[3.38,-1.66],[3.68,-0.62],
  [2.95,-1.09],[3.14,-1.07],[2.83,-0.95],[3.03,-0.79],[2.91,-1.21],[3.19,-0.80],[2.77,-0.86],[3.25,-1.18],[2.87,-0.82],[3.08,-1.18],
  [3.00,-1.00],[3.06,-0.98],[2.96,-0.93],[3.03,-1.05],[2.93,-1.03],[3.10,-0.89],[2.89,-0.88],[3.12,-1.09],[2.90,-1.11],[3.16,-0.98],[2.84,-1.01],[3.01,-0.84],[3.02,-1.16],[3.20,-0.91],[2.80,-0.92],[3.08,-0.80],[2.94,-1.21],[3.19,-1.14],[2.82,-1.20],[3.24,-1.05],[2.75,-0.87],[3.11,-0.74],[2.87,-0.73],[3.27,-0.83],[2.72,-1.10],[3.06,-1.28],[3.30,-1.22],[2.77,-0.78],[3.15,-1.20],[2.97,-0.70],
  [3.95,-0.90],[2.14,-1.33],[3.05,-1.84],[3.20,-0.16]];
const cloud_m3_m3 = [[-2.97,-3.02],[-2.95,-2.92],[-3.04,-3.11],[-3.12,-2.95],[-2.88,-3.15],[-2.86,-2.83],[-2.81,-3.06],[-3.02,-2.87],[-3.10,-3.21],[-3.22,-3.00],[-3.09,-2.77],[-2.72,-3.09],[-2.94,-3.26],[-2.76,-2.90],[-2.96,-2.72],[-3.25,-3.18],[-3.24,-2.80],[-2.80,-3.31],[-2.66,-2.96],[-3.33,-3.05],[-2.82,-2.67],[-3.05,-3.35],[-3.30,-2.74],[-2.67,-3.24],[-3.06,-2.62],[-2.60,-3.13],[-2.85,-3.39],[-3.39,-2.86],[-3.31,-3.29],[-2.68,-2.69],[-3.18,-3.42],[-2.88,-2.58],[-2.87,-3.03],[-3.06,-2.98],[-3.00,-3.12],[-2.90,-2.88],[-3.15,-3.07],[-3.16,-2.82],[-2.78,-3.19],[-3.28,-2.93],[-3.20,-3.33],[-2.74,-2.76],[-3.38,-3.16],[-3.20,-2.64],[-2.70,-3.37],[-2.58,-2.91],[-2.96,-3.44],[-3.02,-2.56],[-3.16,-3.22],[-2.67,-2.84],[-2.92,-3.10],[-2.82,-2.94],[-3.01,-3.25],[-3.00,-2.79],[-2.75,-3.00],[-3.27,-3.14],[-3.16,-2.71],[-2.72,-3.28],[-3.33,-2.89],[-3.32,-3.40],[-2.72,-2.60],[-3.43,-3.08],[-3.38,-2.68],[-2.60,-3.34],[-2.92,-2.97],
  [-2.48,-2.90],[-3.55,-2.95],[-2.92,-2.45],[-3.05,-3.56],[-2.55,-2.62],[-3.40,-2.54],[-2.58,-3.45],[-3.47,-3.40],[-2.38,-3.12],[-3.63,-3.20],[-2.80,-2.38],[-3.25,-2.40],[-2.72,-3.60],[-3.18,-3.64],[-2.42,-2.70],[-3.60,-2.68],[-2.45,-3.35],[-3.52,-3.45],[-2.30,-2.95],[-3.72,-2.92],[-2.95,-2.28],[-3.10,-3.72],[-2.52,-2.42],[-3.55,-2.45],[-2.40,-3.50],[-3.45,-3.62],[-2.34,-2.62],[-3.38,-2.32],
  [-3.09,-3.05],[-3.07,-2.86],[-2.95,-3.17],[-2.79,-2.97],[-3.21,-3.09],[-2.80,-2.81],[-2.86,-3.23],[-3.18,-2.75],[-2.82,-3.13],[-3.18,-2.92],
  [-3.00,-3.00],[-3.06,-3.02],[-2.96,-3.07],[-3.03,-2.95],[-2.93,-2.97],[-3.10,-3.11],[-2.89,-3.12],[-3.12,-2.91],[-2.90,-2.89],[-3.16,-3.02],[-2.84,-2.99],[-3.01,-3.16],[-3.02,-2.84],[-3.20,-3.09],[-2.80,-3.08],[-3.08,-3.20],[-2.94,-2.79],[-3.19,-2.86],[-2.82,-2.80],[-3.24,-2.95],[-2.75,-3.13],[-3.11,-3.26],[-2.87,-3.27],[-3.27,-3.17],[-2.72,-2.90],[-3.06,-2.72],[-3.30,-2.78],[-2.77,-3.22],[-3.15,-2.80],[-2.97,-3.30],
  [-3.12,-2.17],[-3.78,-3.36],[-2.12,-3.00],[-3.04,-4.08],[-2.33,-3.66]];
const cloud_m1_m3 = [[-0.98,-3.03],[-1.08,-3.05],[-0.89,-2.96],[-1.05,-2.88],[-0.85,-3.12],[-1.17,-3.14],[-0.94,-3.19],[-1.13,-2.98],[-0.79,-2.90],[-1.00,-2.78],[-1.23,-2.91],[-0.91,-3.28],[-0.74,-3.06],[-1.10,-3.24],[-1.28,-3.04],[-0.82,-2.75],[-1.20,-2.76],[-0.69,-3.20],[-1.04,-3.34],[-0.95,-2.67],[-1.33,-3.18],[-0.65,-2.95],[-1.26,-2.70],[-0.76,-3.33],[-1.38,-2.94],[-0.87,-3.40],[-0.61,-3.15],[-1.14,-2.61],[-0.71,-2.69],[-1.31,-3.32],[-0.58,-2.82],[-1.42,-3.12],[-0.97,-3.13],[-1.02,-2.94],[-0.88,-3.00],[-1.12,-3.10],[-0.93,-2.85],[-1.18,-2.84],[-0.81,-3.22],[-1.07,-2.72],[-0.67,-2.80],[-1.24,-3.26],[-0.84,-2.62],[-1.36,-2.80],[-0.63,-3.30],[-1.09,-3.42],[-0.56,-3.04],[-1.44,-2.98],[-0.78,-2.84],[-1.16,-3.33],[-0.90,-3.08],[-1.06,-3.18],[-0.75,-2.99],[-1.21,-3.00],[-1.00,-3.25],[-0.86,-2.73],[-1.29,-2.84],[-0.72,-3.28],[-1.11,-2.67],[-0.60,-2.68],[-1.40,-3.28],[-0.92,-2.57],[-1.32,-2.62],[-0.66,-3.40],[-1.03,-3.08],
  [-1.10,-3.52],[-1.05,-2.45],[-1.55,-3.08],[-0.44,-2.95],[-1.38,-3.45],[-1.46,-2.60],[-0.55,-3.42],[-0.60,-2.53],[-0.88,-3.62],[-0.80,-2.37],[-1.62,-3.20],[-1.60,-2.75],[-0.40,-3.28],[-0.36,-2.82],[-1.30,-3.58],[-1.32,-2.40],[-0.65,-3.55],[-0.55,-2.48],[-1.05,-3.70],[-1.08,-2.28],[-1.72,-3.05],[-0.28,-2.90],[-1.58,-3.48],[-1.55,-2.45],[-0.40,-3.60],[-0.38,-2.55],[-1.38,-3.66],[-1.68,-2.62],
  [-0.95,-2.91],[-1.14,-2.93],[-0.83,-3.05],[-1.03,-3.21],[-0.91,-2.79],[-1.19,-3.20],[-0.77,-3.14],[-1.25,-2.82],[-0.87,-3.18],[-1.08,-2.82],
  [-1.00,-3.00],[-1.06,-3.02],[-0.96,-3.07],[-1.03,-2.95],[-0.93,-2.97],[-1.10,-3.11],[-0.89,-3.12],[-1.12,-2.91],[-0.90,-2.89],[-1.16,-3.02],[-0.84,-2.99],[-1.01,-3.16],[-1.02,-2.84],[-1.20,-3.09],[-0.80,-3.08],[-1.08,-3.20],[-0.94,-2.79],[-1.19,-2.86],[-0.82,-2.80],[-1.24,-2.95],[-0.75,-3.13],[-1.11,-3.26],[-0.87,-3.27],[-1.27,-3.17],[-0.72,-2.90],[-1.06,-2.72],[-1.30,-2.78],[-0.77,-3.22],[-1.15,-2.80],[-0.97,-3.30],
  [-1.42,-3.82],[-0.98,-3.78],[-0.13,-3.30],[-0.85,-2.30]];
const cloud_p1_m3 = [[0.97,-3.02],[0.95,-2.92],[1.04,-3.11],[1.12,-2.95],[0.88,-3.15],[0.86,-2.83],[0.81,-3.06],[1.02,-2.87],[1.10,-3.21],[1.22,-3.00],[1.09,-2.77],[0.72,-3.09],[0.94,-3.26],[0.76,-2.90],[0.96,-2.72],[1.25,-3.18],[1.24,-2.80],[0.80,-3.31],[0.66,-2.96],[1.33,-3.05],[0.82,-2.67],[1.05,-3.35],[1.30,-2.74],[0.67,-3.24],[1.06,-2.62],[0.60,-3.13],[0.85,-3.39],[1.39,-2.86],[1.31,-3.29],[0.68,-2.69],[1.18,-3.42],[0.88,-2.58],[0.87,-3.03],[1.06,-2.98],[1.00,-3.12],[0.90,-2.88],[1.15,-3.07],[1.16,-2.82],[0.78,-3.19],[1.28,-2.93],[1.20,-3.33],[0.74,-2.76],[1.38,-3.16],[1.20,-2.64],[0.70,-3.37],[0.58,-2.91],[0.96,-3.44],[1.02,-2.56],[1.16,-3.22],[0.67,-2.84],[0.92,-3.10],[0.82,-2.94],[1.01,-3.25],[1.00,-2.79],[0.75,-3.00],[1.27,-3.14],[1.16,-2.71],[0.72,-3.28],[1.33,-2.89],[1.32,-3.40],[0.72,-2.60],[1.43,-3.08],[1.38,-2.68],[0.60,-3.34],[0.92,-2.97],
  [0.90,-2.48],[0.95,-3.55],[0.45,-2.92],[1.56,-3.05],[0.62,-2.55],[0.54,-3.40],[1.45,-2.58],[1.40,-3.47],[1.12,-2.38],[1.20,-3.63],[0.38,-2.80],[0.40,-3.25],[1.60,-2.72],[1.64,-3.18],[0.70,-2.42],[0.68,-3.60],[1.35,-2.45],[1.45,-3.52],[0.95,-2.30],[0.92,-3.72],[0.28,-2.95],[1.72,-3.10],[0.42,-2.52],[0.45,-3.55],[1.50,-2.40],[1.62,-3.45],[0.62,-2.34],[0.32,-3.38],
  [1.09,-3.05],[1.07,-2.86],[0.95,-3.17],[0.79,-2.97],[1.21,-3.09],[0.80,-2.81],[0.86,-3.23],[1.18,-2.75],[0.82,-3.13],[1.18,-2.92],
  [1.00,-3.00],[0.94,-3.02],[1.04,-3.07],[0.97,-2.95],[1.07,-2.97],[0.90,-3.11],[1.11,-3.12],[0.88,-2.91],[1.10,-2.89],[0.84,-3.02],[1.16,-2.99],[0.99,-3.16],[0.98,-2.84],[0.80,-3.09],[1.20,-3.08],[0.92,-3.20],[1.06,-2.79],[0.81,-2.86],[1.18,-2.80],[0.76,-2.95],[1.25,-3.13],[0.89,-3.26],[1.13,-3.27],[0.73,-3.17],[1.28,-2.90],[0.94,-2.72],[0.70,-2.78],[1.23,-3.22],[0.85,-2.80],[1.03,-3.30],
  [0.55,-2.22],[1.98,-3.13],[1.96,-3.38],[1.13,-3.78],[0.38,-3.58]];
const cloud_p3_m3 = [[2.98,-3.03],[3.08,-3.05],[2.89,-2.96],[3.05,-2.88],[2.85,-3.12],[3.17,-3.14],[2.94,-3.19],[3.13,-2.98],[2.79,-2.90],[3.00,-2.78],[3.23,-2.91],[2.91,-3.28],[2.74,-3.06],[3.10,-3.24],[3.28,-3.04],[2.82,-2.75],[3.20,-2.76],[2.69,-3.20],[3.04,-3.34],[2.95,-2.67],[3.33,-3.18],[2.65,-2.95],[3.26,-2.70],[2.76,-3.33],[3.38,-2.94],[2.87,-3.40],[2.61,-3.15],[3.14,-2.61],[2.71,-2.69],[3.31,-3.32],[2.58,-2.82],[3.42,-3.12],[2.97,-3.13],[3.02,-2.94],[2.88,-3.00],[3.12,-3.10],[2.93,-2.85],[3.18,-2.84],[2.81,-3.22],[3.07,-2.72],[2.67,-2.80],[3.24,-3.26],[2.84,-2.62],[3.36,-2.80],[2.63,-3.30],[3.09,-3.42],[2.56,-3.04],[3.44,-2.98],[2.78,-2.84],[3.16,-3.33],[2.90,-3.08],[3.06,-3.18],[2.75,-2.99],[3.21,-3.00],[3.00,-3.25],[2.86,-2.73],[3.29,-2.84],[2.72,-3.28],[3.11,-2.67],[2.60,-2.68],[3.40,-3.28],[2.92,-2.57],[3.32,-2.62],[2.66,-3.40],[3.03,-3.08],
  [3.10,-2.48],[3.05,-3.55],[3.55,-2.92],[2.44,-3.05],[3.38,-2.55],[3.46,-3.40],[2.55,-2.58],[2.60,-3.47],[2.88,-2.38],[2.80,-3.63],[3.62,-2.80],[3.60,-3.25],[2.40,-2.72],[2.36,-3.18],[3.30,-2.42],[3.32,-3.60],[2.65,-2.45],[2.55,-3.52],[3.05,-2.30],[3.08,-3.72],[3.72,-2.95],[2.28,-3.10],[3.58,-2.52],[3.55,-3.55],[2.50,-2.40],[2.38,-3.45],[3.38,-2.34],[3.68,-3.38],
  [2.95,-2.91],[3.14,-2.93],[2.83,-3.05],[3.03,-3.21],[2.91,-2.79],[3.19,-3.20],[2.77,-3.14],[3.25,-2.82],[2.87,-3.18],[3.08,-2.82],
  [3.00,-3.00],[2.94,-3.02],[3.04,-3.07],[2.97,-2.95],[3.07,-2.97],[2.90,-3.11],[3.11,-3.12],[2.88,-2.91],[3.10,-2.89],[2.84,-3.02],[3.16,-2.99],[2.99,-3.16],[2.98,-2.84],[2.80,-3.09],[3.20,-3.08],[2.92,-3.20],[3.06,-2.79],[2.81,-2.86],[3.18,-2.80],[2.76,-2.95],[3.25,-3.13],[2.89,-3.26],[3.13,-3.27],[2.73,-3.17],[3.28,-2.90],[2.94,-2.72],[2.70,-2.78],[3.23,-3.22],[2.85,-2.80],[3.03,-3.30],
  [4.05,-3.25],[3.20,-2.22],[3.74,-2.32],[2.33,-3.58],[3.22,-3.90],[2.73,-3.84]];

const clouds = [
  cloud_m3_p3, cloud_m1_p3, cloud_p1_p3, cloud_p3_p3,
  cloud_m3_p1, cloud_m1_p1, cloud_p1_p1, cloud_p3_p1,
  cloud_m3_m1, cloud_m1_m1, cloud_p1_m1, cloud_p3_m1,
  cloud_m3_m3, cloud_m1_m3, cloud_p1_m3, cloud_p3_m3
];

// frame, axes with arrows, tick marks and labels, drawn under the symbols
const qamAxes = {
  id: "qamAxes",
  beforeDatasetsDraw(chart) {
    const { ctx, chartArea: a, scales } = chart;
    const sx = scales.x, sy = scales.y;
    const x0 = sx.getPixelForValue(0);
    const y0 = sy.getPixelForValue(0);
    ctx.save();

    ctx.strokeStyle = "#7a7a7a";
    ctx.lineWidth = 1;
    ctx.strokeRect(a.left + 0.5, a.top + 0.5, a.width - 1, a.height - 1);

    ctx.strokeStyle = "#000";
    ctx.lineWidth = 3;
    ctx.beginPath();
    ctx.moveTo(x0, a.bottom);
    ctx.lineTo(x0, a.top + 8);
    ctx.moveTo(a.left, y0);
    ctx.lineTo(a.right - 8, y0);
    ctx.stroke();

    ctx.fillStyle = "#000";
    ctx.beginPath();
    ctx.moveTo(x0, a.top + 1);
    ctx.lineTo(x0 - 4, a.top + 13);
    ctx.lineTo(x0 + 4, a.top + 13);
    ctx.fill();
    ctx.beginPath();
    ctx.moveTo(a.right - 1, y0);
    ctx.lineTo(a.right - 14, y0 - 4);
    ctx.lineTo(a.right - 14, y0 + 4);
    ctx.fill();

    ctx.strokeStyle = "#333";
    ctx.lineWidth = 1;
    ctx.fillStyle = "#444";
    ctx.font = '12px "Liberation Sans", Arial, sans-serif';
    xTickLabels.forEach(v => {
      const px = Math.round(sx.getPixelForValue(v)) + 0.5;
      ctx.beginPath();
      ctx.moveTo(px, y0 - 5);
      ctx.lineTo(px, y0 + 5);
      ctx.stroke();
      ctx.textAlign = "center";
      ctx.fillText(String(v), px, y0 + 21);
    });
    yTickLabels.forEach(v => {
      const py = Math.round(sy.getPixelForValue(v)) + 0.5;
      ctx.beginPath();
      ctx.moveTo(x0 - 6, py);
      ctx.lineTo(x0 + 6, py);
      ctx.stroke();
      ctx.textAlign = "left";
      ctx.fillText(String(v), x0 + 6, py + 5);
    });

    // axis names with subscript k
    const axisName = (x, y, pre, sub, post) => {
      ctx.textAlign = "left";
      ctx.font = '14px "Liberation Sans", Arial, sans-serif';
      ctx.fillText(pre, x, y);
      let w = ctx.measureText(pre).width;
      ctx.font = '10px "Liberation Sans", Arial, sans-serif';
      ctx.fillText(sub, x + w, y + 3);
      w += ctx.measureText(sub).width;
      ctx.font = '14px "Liberation Sans", Arial, sans-serif';
      ctx.fillText(post, x + w, y);
    };
    axisName(x0 + 4, a.top + 26, "Im{a", "k", "/A}");
    axisName(a.right - 56, y0 + 24, "Re{a", "k", "/A}");

    ctx.restore();
  }
};

new Chart(document.getElementById("qam"), {
  type: "scatter",
  data: {
    datasets: [{
      data: clouds.flat().map(([x, y]) => ({ x, y })),
      pointStyle: "rectRot",
      pointRadius: 3.5,
      pointHoverRadius: 3.5,
      backgroundColor: "#000",
      borderWidth: 0
    }]
  },
  options: {
    responsive: false,
    animation: false,
    devicePixelRatio: 1,
    events: [],
    layout: { padding: 0, autoPadding: false },
    plugins: { legend: { display: false }, tooltip: { enabled: false } },
    scales: {
      x: {
        type: "linear", min: xMin, max: xMax,
        afterBuildTicks: s => { s.ticks = gridValues.map(v => ({ value: v })); },
        ticks: { display: false },
        grid: { color: "#222", lineWidth: 2, drawTicks: false },
        border: { display: false }
      },
      y: {
        type: "linear", min: yMin, max: yMax,
        afterBuildTicks: s => { s.ticks = gridValues.map(v => ({ value: v })); },
        ticks: { display: false },
        grid: { color: "#222", lineWidth: 2, drawTicks: false },
        border: { display: false }
      }
    }
  },
  plugins: [qamAxes]
});
</script>
</body>
</html>
